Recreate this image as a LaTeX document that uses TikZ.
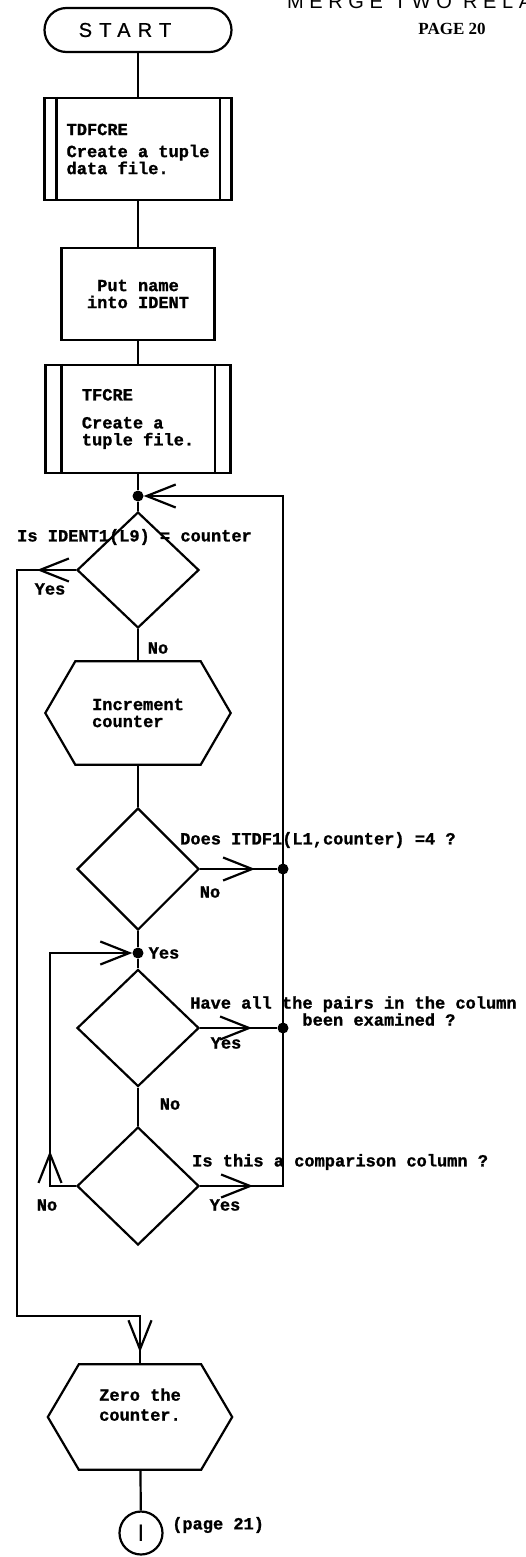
\documentclass[tikz,border=0pt]{standalone}
\usepackage{fontspec}
\newfontfamily\typerfont{Liberation Mono}[BoldFeatures={FakeBold=1.2}]
\newfontfamily\stencilfont{Liberation Sans}[LetterSpace=36, FakeBold=0.8]
\newfontfamily\headfont{Liberation Sans}[LetterSpace=28]
\newfontfamily\plainsans{Liberation Sans}
\newfontfamily\stampfont{Liberation Serif}
\usepackage{tikz}
\usetikzlibrary{arrows.meta, positioning, calc, shapes.geometric, decorations.markings}

\begin{document}
\begin{tikzpicture}[x=1pt, y=-1pt,
    flow/.style={line width=2.2pt},
    barb/.tip={Straight Barb[length=29pt, width=23pt]},
    tipat/.style={postaction={decorate, decoration={markings, mark=at position #1 with {\arrow{barb}}}}},
    txt/.style={font=\typerfont\bfseries\fontsize{17pt}{17pt}\selectfont, inner sep=0pt},
    process/.style={rectangle, draw, flow, txt, align=center},
    decision/.style={diamond, draw, flow, minimum width=122pt, inner sep=0pt},
    dot/.style={circle, fill, inner sep=0pt, minimum size=11pt}]
  \useasboundingbox (0,0) rectangle (526,1557);

  % heading of the sheet
  \node[anchor=base west, inner sep=0pt, font=\headfont\fontsize{20pt}{20pt}\selectfont] (title) at (287,8.5) {MERGE TWO RELATIONS};
  \node[font=\stampfont\bfseries\fontsize{17pt}{17pt}\selectfont] (pg) at (452,29) {PAGE 20};

  % main column
  \node[draw, flow, rounded corners=22pt, minimum width=187pt, minimum height=44pt,
        font=\stencilfont\fontsize{20pt}{20pt}\selectfont] (start) at (138,30) {START\hspace*{26pt}};
  \node[process, minimum width=187pt, minimum height=102pt, align=left] (tdfcre) at (138,149)
        {TDFCRE\\[5pt]Create a tuple\\data file.};
  \node[process, minimum width=153pt, minimum height=92pt] (put) at (138,294) {Put name\\into IDENT};
  \node[process, minimum width=185pt, minimum height=108pt, align=left] (tfcre) at (138,419)
        {TFCRE\\[11pt]Create a\\tuple file.};
  \node[dot] (j1) at (138,496) {};
  \node[decision, minimum height=116pt] (d1) at (138,570) {};
  \node[txt, align=left, minimum width=185pt, minimum height=103pt] (incr) at (138,713) {Increment\\counter};
  \node[decision, minimum height=122pt] (d2) at (138,869) {};
  \node[dot] (j4) at (138,953) {};
  \node[decision, minimum height=117pt] (d3) at (138,1028) {};
  \node[decision, minimum height=118pt] (d4) at (138,1186) {};
  \node[txt, align=center, minimum width=184pt, minimum height=105pt] (zero) at (140,1417) {Zero the\\[3pt]counter.\\[8pt]};
  \node[circle, draw, flow, minimum size=43pt, inner sep=0pt, font=\plainsans\fontsize{24pt}{24pt}\selectfont] (conn) at (141,1533) {I};
  \node[txt, anchor=west] (pnote) at (172,1525) {(page 21)};

  \foreach \b/\d in {tdfcre/13, tfcre/17} {
    \draw[flow] ([xshift=\d pt]\b.north west) -- ([xshift=\d pt]\b.south west);
    \draw[flow] ([xshift=-\d pt]\b.north east) -- ([xshift=-\d pt]\b.south east);
  }
  \foreach \h/\c in {incr/30, zero/31}
    \draw[flow] (\h.west) -- ([xshift=\c pt]\h.north west) -- ([xshift=-\c pt]\h.north east)
      -- (\h.east) -- ([xshift=-\c pt]\h.south east) -- ([xshift=\c pt]\h.south west) -- cycle;

  % questions
  \node[txt, anchor=west] (q1) at (17,537) {Is IDENT1(L9) = counter};
  \node[txt, anchor=west] (q2) at (180,840) {Does ITDF1(L1,counter) =4 ?};
  \node[txt, anchor=west, align=left] (q3) at (190,1011) {Have all the pairs in the column\\\hphantom{Have all th}been examined ?};
  \node[txt, anchor=west] (q4) at (192,1162) {Is this a comparison column ?};

  \node[txt] (yes1) at (50,589) {Yes};
  \node[txt] (no1) at (158,648) {No};
  \node[txt] (no2) at (210,892) {No};
  \node[txt] (yes2) at (164,953) {Yes};
  \node[txt] (yes3) at (226,1043) {Yes};
  \node[txt] (no3) at (170,1104) {No};
  \node[txt] (no4) at (47,1205) {No};
  \node[txt] (yes4) at (225,1205) {Yes};

  % connectors
  \draw[flow] (start) -- (tdfcre);
  \draw[flow] (tdfcre) -- (put);
  \draw[flow] (put) -- (tfcre);
  \draw[flow] (tfcre) -- (j1) -- (d1);
  \draw[flow] (d1) -- (incr);
  \draw[flow] (incr) -- (d2);
  \draw[flow] (d2) -- (j4) -- (d3);
  \draw[flow] (d3) -- (d4);
  \draw[flow] (zero) -- (conn);

  \coordinate (ybend) at (17,1316);
  \draw[flow, tipat=39pt, tipat=-12pt] (d1.west) -| (ybend) -| (zero.north);

  \node[dot] (j2) at (283,869) {};
  \node[dot] (j3) at (283,1028) {};
  \draw[flow, tipat=55pt] (d2.east) -- (j2);
  \draw[flow, tipat=52pt] (d3.east) -- (j3);
  \coordinate (rbot) at (283,1186);
  \coordinate (rtop) at (283,496);
  \draw[flow, tipat=53pt, -{barb}] (d4.east) -- (rbot) -- (rtop) -- (j1);

  \coordinate (nbend) at (50,1186);
  \draw[flow, tipat=61pt, -{barb}] (d4.west) -- (nbend) |- (j4);
\end{tikzpicture}
\end{document}
